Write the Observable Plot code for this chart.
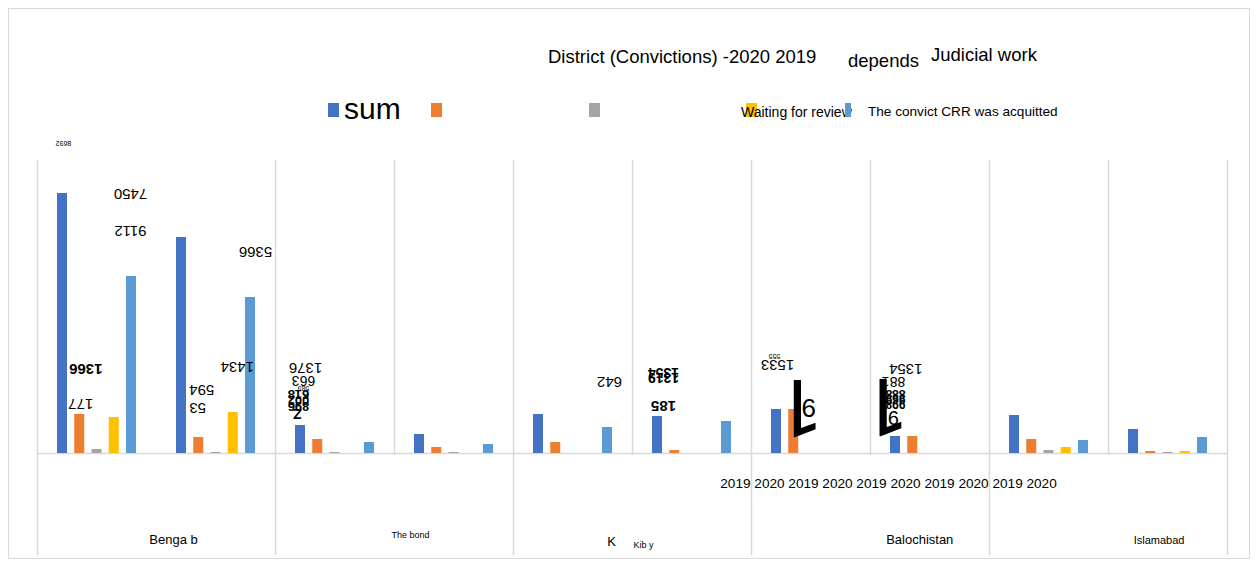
<!DOCTYPE html>
<html><head><meta charset="utf-8">
<script src="https://cdn.jsdelivr.net/npm/d3@7"></script>
<script src="https://cdn.jsdelivr.net/npm/@observablehq/plot@0.6"></script>
<style>
body{margin:0;background:#fff;font-family:"Liberation Sans",Arial,sans-serif;}
#wrap{position:relative;width:1257px;height:565px;overflow:hidden}
.t{position:absolute;white-space:nowrap;color:#000;line-height:1;font-family:"Liberation Sans",Arial,sans-serif}
.sw{position:absolute;width:11px;height:14px}
#chart{position:absolute;left:0;top:0}
</style></head><body>
<div id="wrap">
  <div style="position:absolute;left:8px;top:8px;width:1240px;height:549px;border:1px solid #d9d9d9"></div>
  <div id="chart"></div>
  <div id="title"></div>
  <div id="legend"></div>
</div>
<script>
// ---- data ----
const regions = ["Benga b", "The bond", "K", "Balochistan", "Islamabad"];
const years = ["2019", "2020"];
const groups = ["B19","B20","T19","T20","K19","K20","Ba19","Ba20","I19","I20"];
const seriesKeys = ["s1","s2","s3","s4","s5"];
const seriesNames = ["sum", "", "", "Waiting for review", "The convict CRR was acquitted"];
const seriesColors = ["#4472C4", "#ED7D31", "#A5A5A5", "#FFC000", "#5B9BD5"];

const sumValues      = [26000, 21600, 2800, 1900, 3900, 3700, 4400, 1700, 3800, 2400];
const secondValues   = [3900, 1600, 1400, 600, 1100, 300, 4400, 1700, 1400, 200];
const thirdValues    = [400, 100, 100, 100, 0, 0, 0, 0, 300, 100];
const waitingValues  = [3600, 4100, 0, 0, 0, 0, 0, 0, 600, 200];
const acquitValues   = [17700, 15600, 1100, 900, 2600, 3200, 0, 0, 1300, 1600];
const seriesValues = [sumValues, secondValues, thirdValues, waitingValues, acquitValues];

const titleParts = ["District (Convictions) -2020 2019", "depends", "Judicial work"];

// stray (upside-down) value labels
const labelTexts  = ["8692","7450","9112","5366","1366","177","594","53","1434","1376","663","589","618","002","896","Z","642","1354","1319","185","1533","555","1","9","1354","881","888","969","998","1","9"];
const labelGroups = ["B19","B19","B19","B20","B19","B19","B20","B20","B20","T19","T19","T19","T19","T19","T19","T19","K19","K20","K20","K20","Ba19","Ba19","Ba19","Ba19","Ba20","Ba20","Ba20","Ba20","Ba20","Ba20","Ba20"];
const labelSeries = ["s1","s5","s5","s5","s2","s2","s2","s2","s4","s1","s1","s1","s1","s1","s1","s1","s5","s1","s1","s1","s1","s1","s2","s2","s2","s1","s1","s1","s1","s1","s1"];
const labelValues = [31000,26000,22300,20200,8500,5000,6400,4600,8700,8600,7300,6500,5900,5300,4700,4000,7200,8100,7600,4800,8900,9700,4800,4600,8500,7200,6000,5500,5000,4900,3600];

// ---- layout / style config (not data) ----
const FONT = "'Liberation Sans', Arial, sans-serif";
const BIG = "Roboto, 'Open Sans', sans-serif";
const labelSizes  = [7,15,15,15,15,15,15,15,15,15,14,7,13,13,13,15,15,14,14,15,15,7,80,26,15,14,12,12,12,80,20];
const labelShift  = [1,-1,-1,5,6,1,3,-1,4,5,3,3,-2,-2,-2,-3,2,6,6,6,1,-2,6,15,-7,-2,0,0,0,-10,-2];
const labelBold   = [0,0,0,0,1,0,0,0,0,0,0,0,1,1,1,1,0,1,1,1,0,0,0,0,0,0,1,1,1,0,0];

// ---- table ----
const rows = [];
groups.forEach((g, gi) => seriesKeys.forEach((s, si) => rows.push({group: g, series: s, value: seriesValues[si][gi]})));

const gridLong = ["B19","T19","K19","Ba19","I19"];
const gridShort = ["T20","K20","Ba20","I20"];

const labelMarks = labelTexts.map((t, i) => Plot.text([{group: labelGroups[i], series: labelSeries[i], value: labelValues[i], text: t}], {
  fx: "group", x: "series", y: "value", text: "text", rotate: 180,
  fontFamily: labelSizes[i] > 50 ? BIG : FONT,
  fontSize: labelSizes[i], dx: labelShift[i], fontWeight: labelBold[i] ? "bold" : "normal", fill: "#000"
}));

const yearLine = regions.flatMap(() => years).join(" ");
const bottomText = [
  {group: "Ba20", series: "s1", value: -3000, text: yearLine, size: 13.6, dx: -7},
  {group: "B20", series: "s1", value: -8600, text: regions[0], size: 13, dx: -8},
  {group: "T20", series: "s1", value: -8200, text: regions[1], size: 9, dx: -9},
  {group: "K19", series: "s5", value: -8800, text: regions[2], size: 13, dx: 4},
  {group: "K20", series: "s1", value: -9200, text: "Kib y", size: 9, dx: -14},
  {group: "Ba20", series: "s2", value: -8600, text: regions[3], size: 13, dx: 7},
  {group: "I20", series: "s3", value: -8700, text: regions[4], size: 11, dx: -9}
];

const plot = Plot.plot({
  width: 1257, height: 565,
  marginLeft: 37, marginRight: 30, marginTop: 130, marginBottom: 112,
  fx: {domain: groups, padding: 0, axis: null, round: false},
  x: {domain: seriesKeys, paddingInner: 0.42, paddingOuter: 1.16, axis: null, round: false},
  y: {domain: [0, 32300], axis: null},
  color: {domain: seriesKeys, range: seriesColors},
  style: {background: "transparent", fontFamily: FONT, overflow: "visible"},
  marks: [
    Plot.ruleX(gridLong, {fx: d => d, x: () => "s1", y1: -10200, y2: 29300, dx: -25, stroke: "#d9d9d9", strokeWidth: 1.5}),
    Plot.ruleX(gridShort, {fx: d => d, x: () => "s1", y1: -200, y2: 29300, dx: -25, stroke: "#d9d9d9", strokeWidth: 1.5}),
    Plot.ruleX(["I20"], {fx: d => d, x: () => "s5", y1: -10200, y2: 29300, dx: 25, stroke: "#d9d9d9", strokeWidth: 1.5}),
    Plot.ruleY([0], {stroke: "#d9d9d9", strokeWidth: 1.5}),
    Plot.barY(rows, {fx: "group", x: "series", y: "value", fill: "series"}),
    ...labelMarks,
    ...bottomText.map(d => Plot.text([d], {fx: "group", x: "series", y: "value", text: "text", fontSize: d.size, dx: d.dx, fill: "#000", fontFamily: FONT}))
  ]
});
document.getElementById("chart").appendChild(plot);

// ---- title (HTML) ----
const titlePos = [[548, 48], [848, 52], [931, 46]];
const titleEl = document.getElementById("title");
titleParts.forEach((t, i) => {
  const s = document.createElement("div");
  s.className = "t"; s.textContent = t;
  s.style.left = titlePos[i][0] + "px"; s.style.top = titlePos[i][1] + "px"; s.style.fontSize = "18.5px";
  titleEl.appendChild(s);
});

// ---- legend (HTML) ----
const legendEl = document.getElementById("legend");
const swatchX = [328, 431, 589, 746, 845];
const textPos = [[344, 94, 30], null, null, [741, 105, 14], [868, 105, 13.6]];
[0, 1, 2, 3, 4].forEach(i => {
  if (i === 4) { // text drawn before last swatch (swatch overlaps it)
    const tx = document.createElement("div");
    tx.className = "t"; tx.textContent = seriesNames[3];
    tx.style.left = textPos[3][0] + "px"; tx.style.top = textPos[3][1] + "px"; tx.style.fontSize = textPos[3][2] + "px";
    legendEl.appendChild(tx);
  }
  const sw = document.createElement("div");
  sw.className = "sw"; sw.style.background = seriesColors[i];
  sw.style.left = swatchX[i] + "px"; sw.style.top = "103px";
  if (i === 4) sw.style.width = "6px";
  legendEl.appendChild(sw);
  if (textPos[i] && i !== 3) {
    const tx = document.createElement("div");
    tx.className = "t"; tx.textContent = seriesNames[i];
    tx.style.left = textPos[i][0] + "px"; tx.style.top = textPos[i][1] + "px"; tx.style.fontSize = textPos[i][2] + "px";
    legendEl.appendChild(tx);
  }
});
</script>
</body></html>
